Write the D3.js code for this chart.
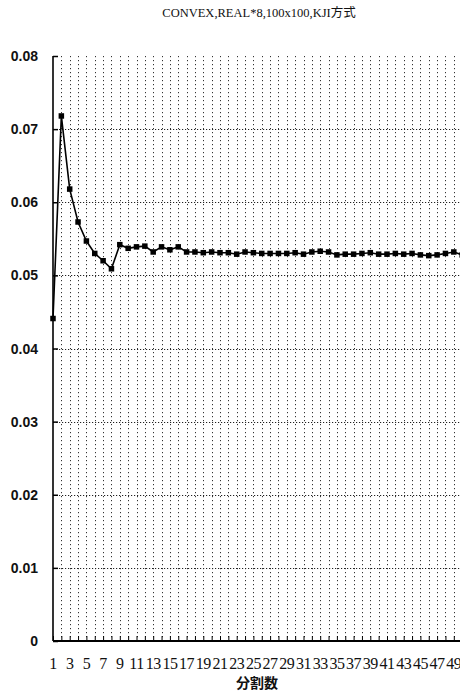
<!DOCTYPE html>
<html>
<head>
    <meta charset="utf-8">
    <title>CONVEX REAL*8</title>
    <script src="https://d3js.org/d3.v7.min.js"></script>
    <style>
        body {
            margin: 0;
            background: #fff;
        }
        #chart {
            display: block;
        }
    </style>
</head>
<body>
    <svg id="chart" width="460" height="693"></svg>

    <script>
        // data
        const title = 'CONVEX,REAL*8,100x100,KJI方式';
        const xTitle = '分割数';
        const categories = d3.range(1, 51);
        const values = [
            0.0441, 0.0718, 0.0618, 0.0573, 0.0547, 0.0530, 0.0520, 0.0509, 0.0542, 0.0537,
            0.0539, 0.0540, 0.0532, 0.0539, 0.0535, 0.0539, 0.0532, 0.0532, 0.0531, 0.0532,
            0.0531, 0.0531, 0.0529, 0.0532, 0.0531, 0.0530, 0.0530, 0.0530, 0.0530, 0.0531,
            0.0529, 0.0532, 0.0533, 0.0532, 0.0528, 0.0529, 0.0529, 0.0530, 0.0531, 0.0529,
            0.0529, 0.0530, 0.0529, 0.0530, 0.0528, 0.0527, 0.0528, 0.0530, 0.0532, 0.0528
        ];
        const yTicks = [0, 0.01, 0.02, 0.03, 0.04, 0.05, 0.06, 0.07, 0.08];
        const yTickLabels = ['0', '0.01', '0.02', '0.03', '0.04', '0.05', '0.06', '0.07', '0.08'];
        const xTickLabels = categories.filter(d => d % 2 === 1);

        const svg = d3.select('#chart');

        const plotLeft = 53, plotTop = 56, plotBottom = 641;
        const step = 8.35;

        const x = d3.scalePoint()
            .domain(categories)
            .range([plotLeft, plotLeft + step * (categories.length - 1)]);

        const y = d3.scaleLinear()
            .domain([0, 0.08])
            .range([plotBottom, plotTop]);

        // title
        svg.append('text')
            .attr('x', 259)
            .attr('y', 17)
            .attr('text-anchor', 'middle')
            .attr('font-family', '"Liberation Serif", "Noto Sans CJK JP", serif')
            .attr('font-size', '12.5px')
            .attr('fill', '#111')
            .text(title);

        // vertical dotted grid
        svg.append('g')
            .selectAll('line')
            .data(categories.slice(1))
            .join('line')
            .attr('x1', d => Math.round(x(d)) + 0.5)
            .attr('x2', d => Math.round(x(d)) + 0.5)
            .attr('y1', plotTop)
            .attr('y2', plotBottom)
            .attr('stroke', '#333')
            .attr('stroke-width', 1)
            .attr('stroke-dasharray', '1.2,2.8');

        // horizontal dotted grid
        svg.append('g')
            .selectAll('line')
            .data(yTicks.slice(1, -1))
            .join('line')
            .attr('x1', plotLeft)
            .attr('x2', 460)
            .attr('y1', d => Math.round(y(d)) + 0.5)
            .attr('y2', d => Math.round(y(d)) + 0.5)
            .attr('stroke', '#222')
            .attr('stroke-width', 1)
            .attr('stroke-dasharray', '1.2,1.8');

        // y axis
        const yAxis = d3.axisRight(y)
            .tickValues(yTicks)
            .tickSize(5)
            .tickFormat('');
        const gy = svg.append('g')
            .attr('transform', `translate(${plotLeft},0)`)
            .call(yAxis);
        gy.select('.domain').remove();
        gy.selectAll('.tick line').attr('stroke', '#000').attr('stroke-width', 1.5);
        svg.append('line')
            .attr('x1', plotLeft).attr('x2', plotLeft)
            .attr('y1', plotTop).attr('y2', plotBottom)
            .attr('stroke', '#000')
            .attr('stroke-width', 1.6);

        svg.append('g')
            .selectAll('text')
            .data(yTicks)
            .join('text')
            .attr('x', 38)
            .attr('y', d => y(d) + 5)
            .attr('text-anchor', 'end')
            .attr('font-family', '"Liberation Sans", Arial, sans-serif')
            .attr('font-size', '14px')
            .attr('font-weight', 'bold')
            .attr('fill', '#111')
            .text((d, i) => yTickLabels[i]);

        // x axis
        const xAxis = d3.axisTop(x)
            .tickSize(5)
            .tickFormat('');
        const gx = svg.append('g')
            .attr('transform', `translate(0,${plotBottom})`)
            .call(xAxis);
        gx.select('.domain').remove();
        gx.selectAll('.tick line').attr('stroke', '#000').attr('stroke-width', 1);
        svg.append('line')
            .attr('x1', plotLeft).attr('x2', 460)
            .attr('y1', plotBottom).attr('y2', plotBottom)
            .attr('stroke', '#000')
            .attr('stroke-width', 1.8);

        svg.append('g')
            .selectAll('text')
            .data(xTickLabels)
            .join('text')
            .attr('x', d => x(d))
            .attr('y', 669)
            .attr('text-anchor', 'middle')
            .attr('font-family', '"Liberation Serif", "Times New Roman", serif')
            .attr('font-size', '16px')
            .attr('letter-spacing', '-0.5px')
            .attr('fill', '#111')
            .text(d => d);

        svg.append('text')
            .attr('x', 257)
            .attr('y', 688)
            .attr('text-anchor', 'middle')
            .attr('font-family', '"Noto Sans CJK JP", sans-serif')
            .attr('font-size', '14px')
            .attr('font-weight', 'bold')
            .attr('fill', '#111')
            .text(xTitle);

        // series line + square markers
        const line = d3.line()
            .x((d, i) => x(categories[i]))
            .y(d => y(d));

        svg.append('path')
            .datum(values)
            .attr('d', line)
            .attr('fill', 'none')
            .attr('stroke', '#000')
            .attr('stroke-width', 1.6);

        svg.append('g')
            .selectAll('rect')
            .data(values)
            .join('rect')
            .attr('x', (d, i) => x(categories[i]) - 2.75)
            .attr('y', d => y(d) - 2.75)
            .attr('width', 5.5)
            .attr('height', 5.5)
            .attr('fill', '#000');
    </script>
</body>
</html>
